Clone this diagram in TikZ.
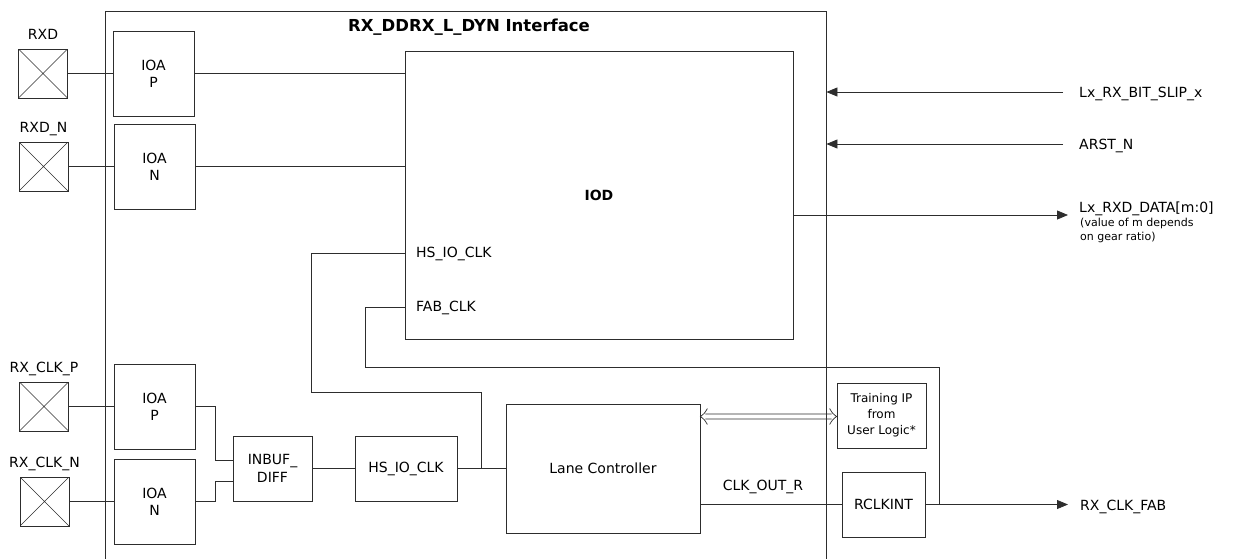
\documentclass[tikz,border=0pt]{standalone}
\usepackage{fontspec}
\setmainfont{DejaVu Sans}
\usetikzlibrary{arrows.meta,positioning,calc}
\definecolor{linegray}{RGB}{45,45,45}

\begin{document}
\begin{tikzpicture}[x=1pt,y=-1pt,>={Triangle[length=11pt,width=9pt]},
  bx/.style={draw=linegray,line width=0.8pt,inner sep=0pt,align=center,
             font=\fontsize{14}{17}\selectfont},
  pad/.style={draw=linegray,line width=0.8pt,minimum size=49pt,inner sep=0pt,
              path picture={\draw[linegray,line width=0.6pt]
                (path picture bounding box.north west) -- (path picture bounding box.south east)
                (path picture bounding box.south west) -- (path picture bounding box.north east);}},
  sig/.style={font=\fontsize{14}{17}\selectfont,inner sep=0pt},
  note/.style={font=\fontsize{11}{13.5}\selectfont,inner sep=0pt,align=left},
  wire/.style={draw=linegray,line width=0.8pt}]
  \clip (0,0) rectangle (1237,558);

  \node[draw=linegray,line width=0.8pt,minimum width=721pt,minimum height=570pt,inner sep=0pt]
    (ifc) at (465.5,296) {};
  \node[sig,font=\fontsize{16.5}{18}\selectfont\bfseries,anchor=base] (title) at (469,31)
    {RX\_DDRX\_L\_DYN Interface};

  \node[bx,minimum width=81pt,minimum height=85pt](ioapd) at (153.5,73.5)  {IOA\\P};
  \node[bx,minimum width=81pt,minimum height=85pt](ioand) at (154.5,166.5) {IOA\\N};
  \node[bx,minimum width=81pt,minimum height=85pt](ioapc) at (154.5,406.5) {IOA\\P};
  \node[bx,minimum width=81pt,minimum height=85pt](ioanc) at (154.5,501.5) {IOA\\N};

  \foreach \n/\x/\y/\t in {prxd/43/73.5/RXD,prxdn/43.5/166.5/RXD\_N,
                          pclkp/44/406.5/RX\_CLK\_P,pclkn/44.5/501.5/RX\_CLK\_N}{
    \node[pad](\n) at (\x,\y) {};
    \node[sig,anchor=base] at ([yshift=9pt]\n.north) {\t};}

  \node[bx,minimum width=388pt,minimum height=288pt,font=\fontsize{14}{17}\selectfont\bfseries]
    (iod) at (599,195) {IOD};
  \node[sig,anchor=base west](pinhs)  at (416,257) {HS\_IO\_CLK};
  \node[sig,anchor=base west](pinfab) at (416,311) {FAB\_CLK};

  \node[bx,minimum width=79pt,minimum height=65pt,font=\fontsize{14}{18}\selectfont]
    (inbuf) at (272.5,468.5) {INBUF\_\\DIFF};
  \node[bx,minimum width=102pt,minimum height=65pt](hsio)  at (406,468.5)   {HS\_IO\_CLK};
  \node[bx,minimum width=194pt,minimum height=129pt](lane) at (603,468.5)   {Lane Controller};
  \node[bx,minimum width=89pt,minimum height=65pt,font=\fontsize{12}{16}\selectfont]
    (train) at (881.5,415.5) {Training IP\\from\\User Logic*};
  \node[bx,minimum width=83pt,minimum height=65pt](rclk)  at (883.5,504.5) {RCLKINT};

  \node[sig,anchor=base west](bitslip) at (1079,97)  {Lx\_RX\_BIT\_SLIP\_x};
  \node[sig,anchor=base west](arst)    at (1079,149) {ARST\_N};
  \node[sig,anchor=base west](rxdata)  at (1079,212) {Lx\_RXD\_DATA[m:0]};
  \node[note,anchor=north west](mnote) at (1080,218) {(value of m depends\\on gear ratio)};
  \node[sig,anchor=base west](clkfab)  at (1080,510) {RX\_CLK\_FAB};
  \node[sig,anchor=base](clkout)       at (763,490)  {CLK\_OUT\_R};

  \coordinate (hsj)     at (481,468.5);
  \coordinate (hsbend)  at (311,392);
  \coordinate (fabj)    at (939,504.5);
  \coordinate (fabbend) at (365,367);
  \coordinate (dataend) at (1068,215);
  \coordinate (dbl)     at (lane.east |- 0,416.5);
  \coordinate (dbr)     at (train.west |- 0,416.5);

  \foreach \i/\j in {prxd/ioapd,prxdn/ioand,pclkp/ioapc,pclkn/ioanc,inbuf/hsio,hsio/lane}{
    \draw[wire](\i)--(\j);}
  \draw[wire](ioapd) -- (ioapd -| iod.west);
  \draw[wire](ioand) -- (ioand -| iod.west);
  \draw[wire](ioapc.east) -- ++(19.5,0) |- ([yshift=8.5pt]inbuf.west);
  \draw[wire](ioanc.east) -- ++(19.5,0) |- ([yshift=-12.5pt]inbuf.west);
  \draw[wire](hsj) |- (hsbend) |- (pinhs -| iod.west);
  \draw[wire](fabj) |- (fabbend) |- (pinfab -| iod.west);
  \draw[wire](lane.east |- rclk.west) -- (rclk.west);
  \draw[wire,->](rclk.east) -- ([xshift=-12pt]clkfab.west |- rclk.east);
  \draw[wire,->]([yshift=-20pt]iod.east) -- (dataend);
  \draw[wire,->]([xshift=-16pt]bitslip.west |- 0,92) -- (ifc.east |- 0,92);
  \draw[wire,->]([xshift=-16pt]arst.west |- 0,144) -- (ifc.east |- 0,144);
  \draw[wire,line width=0.7pt]
    ([xshift=5pt,yshift=2.5pt]dbl) -- ([xshift=-5pt,yshift=2.5pt]dbr)
    ([xshift=5pt,yshift=-2.5pt]dbl) -- ([xshift=-5pt,yshift=-2.5pt]dbr)
    ([xshift=7pt,yshift=8pt]dbl) .. controls ([xshift=4pt,yshift=3pt]dbl) .. (dbl)
      .. controls ([xshift=4pt,yshift=-3pt]dbl) .. ([xshift=7pt,yshift=-8pt]dbl)
    ([xshift=-7pt,yshift=8pt]dbr) .. controls ([xshift=-4pt,yshift=3pt]dbr) .. (dbr)
      .. controls ([xshift=-4pt,yshift=-3pt]dbr) .. ([xshift=-7pt,yshift=-8pt]dbr);
\end{tikzpicture}
\end{document}
